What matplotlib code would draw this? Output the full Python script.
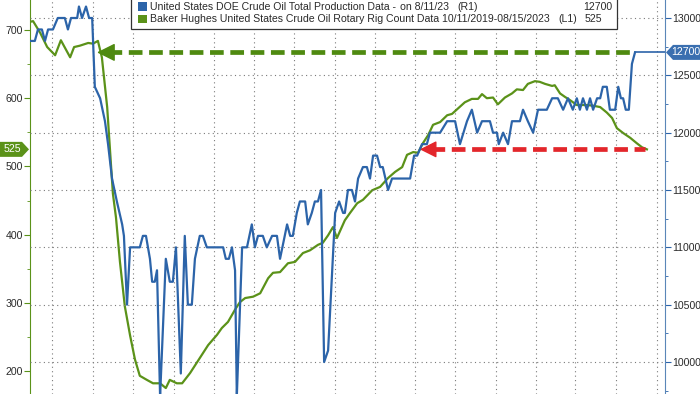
import matplotlib
matplotlib.use("Agg")
import matplotlib.pyplot as plt
import matplotlib.dates as mdates
from matplotlib.patches import Polygon, Rectangle
from matplotlib.ticker import MultipleLocator
import pandas as pd

plt.rcParams['font.family'] = ['Liberation Sans', 'DejaVu Sans']

#---------------------- data ----------------------
start = pd.Timestamp("2019-10-11")
x_end_days = 1440  # right edge of plot

# Baker Hughes rig count (left axis), days after start
rig_days = [0, 7, 23, 39, 57, 70, 91, 100, 113, 132, 143, 154, 163, 175, 184, 188,
            195, 204, 215, 227, 238, 249, 265, 279, 295, 308, 317, 333, 345, 363,
            379, 392, 404, 424, 435, 449, 465, 476, 488, 506, 522, 540, 551, 567,
            585, 601, 619, 635, 653, 664, 676, 687, 696, 714, 726, 742, 755, 776,
            794, 812, 828, 844, 855, 869, 880, 891, 903, 914, 930, 946, 957, 986,
            1002, 1016, 1025, 1036, 1050, 1061, 1077, 1093, 1104, 1118, 1129, 1145,
            1156, 1168, 1184, 1190, 1202, 1213, 1225, 1240, 1263, 1277, 1293, 1308,
            1320, 1331, 1345, 1361, 1376, 1388, 1399]
rig_count = [712, 713, 696, 675, 663, 685, 660, 675, 677, 681, 680, 684, 660, 587, 499, 460,
             425, 360, 295, 252, 217, 193, 187, 182, 182, 175, 187, 182, 182, 197,
             213, 226, 238, 253, 263, 272, 290, 301, 307, 309, 314, 336, 344, 345,
             358, 360, 373, 377, 385, 388, 399, 411, 395, 421, 432, 446, 451, 465,
             470, 483, 492, 499, 517, 521, 520, 534, 546, 561, 565, 575, 577, 594,
             599, 599, 606, 600, 601, 591, 601, 607, 613, 612, 621, 625,
             624, 621, 618, 619, 607, 602, 597, 590, 590, 589, 587, 579,
             571, 556, 549, 542, 534, 528, 525]

# DOE crude oil production (right axis), days after start
prod_days = [0, 11, 18, 27, 34, 41, 52, 63, 79, 86, 93, 107, 111, 118, 127, 134, 141,
             147, 159, 170, 177, 186, 197, 209, 213, 220, 227, 249, 256, 263, 272,
             277, 283, 288, 295, 308, 317, 324, 331, 342, 351, 358, 367, 374, 385,
             392, 401, 438, 444, 451, 458, 465, 469, 481, 492, 503, 510, 517, 528,
             537, 549, 560, 567, 583, 590, 596, 605, 612, 624, 630, 639, 646, 653,
             660, 667, 676, 692, 701, 710, 714, 721, 730, 737, 744, 755, 764, 771,
             778, 787, 794, 800, 812, 821, 862, 871, 878, 889, 900, 907, 930, 946,
             964, 975, 991, 1002, 1014, 1025, 1043, 1050, 1059, 1063, 1073, 1084,
             1093, 1111, 1118, 1129, 1141, 1152, 1172, 1184, 1197, 1209, 1220, 1231,
             1240, 1247, 1254, 1263, 1270, 1277, 1286, 1293, 1299, 1308, 1315, 1327,
             1334, 1340, 1345, 1351, 1358, 1365, 1372]
prod_vals = [12800, 12800, 12900, 12900, 12800, 12900, 12900, 13000, 13000, 12900, 13000,
             13000, 13100, 13000, 13100, 13000, 13000,
             12400, 12300, 12100, 11900, 11600, 11400, 11200, 11100, 10500, 11000, 11000,
             11100, 11100, 10900, 10700, 10700, 10800, 9700, 10900, 10700, 10700, 11000,
             9900, 11100, 10500, 10500, 10900, 11100, 11100, 11000, 11000, 10900, 10900,
             11000, 10800, 9700, 11000, 11000, 11200, 11000, 11100, 11100, 11000, 11100,
             11100, 10900, 11200, 11100, 11100, 11300, 11400, 11400, 11200, 11300, 11400,
             11400, 11500, 10000, 10100, 11300, 11400, 11300, 11300, 11500, 11500, 11400,
             11600, 11700, 11700, 11600, 11800, 11800, 11700, 11700, 11500, 11600, 11600,
             11800, 11800, 11900, 11900, 12000, 12000, 12100, 12100, 11900, 12100, 12200,
             12000, 12100, 12100, 12000, 12000, 11900, 12000, 11900, 12100, 12100, 12200,
             12100, 12000, 12200, 12200, 12300, 12300, 12200, 12300, 12200, 12300, 12200,
             12300, 12200, 12300, 12200, 12300, 12300, 12400, 12400, 12200, 12200, 12400,
             12300, 12300, 12200, 12200, 12600, 12700]

# arrows (days after start)
green_arrow_tip = 152
green_arrow_end = 1367
red_arrow_tip = 884
red_arrow_end = 1395

prod_label = "United States DOE Crude Oil Total Production Data -"
rig_label = "Baker Hughes United States Crude Oil Rotary Rig Count Data 10/11/2019-08/15/2023"

#---------------------- style ----------------------
BLUE = '#2c64a9'
GREEN = '#5b9219'
RED = '#e3262b'
TXT = '#2a2a2a'
W, H = 700, 394

def day(d):
    return start + pd.Timedelta(days=d)

rig_dates = [day(d) for d in rig_days]
prod_dates = [day(d) for d in prod_days]

fig = plt.figure(figsize=(7, 3.94), dpi=100)
ax = fig.add_axes([30 / W, 0, 635 / W, 1])
ax2 = ax.twinx()

ax.set_xlim(day(0), day(x_end_days))
ax.set_ylim(166.3, 744)
ax2.set_ylim(9721, 13157)

ax.plot(rig_dates, rig_count, color=GREEN, lw=1.6, zorder=3)
ax2.plot(prod_dates, prod_vals, color=BLUE, lw=1.6, zorder=3)
# last value line to the axis
ax2.plot([prod_dates[-1], day(x_end_days)], [prod_vals[-1], prod_vals[-1]], color=BLUE, lw=1.2)

# grid
ax.xaxis.set_major_locator(mdates.MonthLocator(bymonth=[3, 6, 9, 12]))
ax.grid(axis='x', color='#7a7a7a', ls=(0, (1, 3)), lw=0.8)
ax2.grid(axis='y', color='#7a7a7a', ls=(0, (1, 3)), lw=0.8)
ax.tick_params(axis='x', bottom=False, labelbottom=False)

ax.yaxis.set_major_locator(MultipleLocator(100))
ax.yaxis.set_minor_locator(MultipleLocator(50))
ax2.yaxis.set_major_locator(MultipleLocator(500))
ax2.yaxis.set_minor_locator(MultipleLocator(250))
ax.tick_params(axis='y', which='major', colors=GREEN, labelcolor=TXT, labelsize=7.6, length=4, pad=1)
ax.tick_params(axis='y', which='minor', colors=GREEN, length=2)
ax2.tick_params(axis='y', which='major', colors=BLUE, labelcolor=TXT, labelsize=7.6, length=4, pad=1)
ax2.tick_params(axis='y', which='minor', colors=BLUE, length=2)

for a in (ax, ax2):
    a.spines['top'].set_visible(False)
    a.spines['bottom'].set_visible(False)
ax.spines['left'].set_color(GREEN)
ax2.spines['left'].set_visible(False)
ax2.spines['right'].set_color('#5a86b8')
ax.spines['right'].set_visible(False)

# dashed arrows
ax2.plot([day(green_arrow_tip + 25), day(green_arrow_end)], [prod_vals[-1]] * 2,
         color='#4f8a10', lw=3.4, dashes=(2.9, 1.4), solid_capstyle='butt', zorder=4)
ax2.annotate('', xy=(day(green_arrow_tip), prod_vals[-1]),
             xytext=(day(green_arrow_tip + 30), prod_vals[-1]),
             arrowprops=dict(arrowstyle='-|>,head_length=0.8,head_width=0.4',
                             mutation_scale=14, fc='#4f8a10', ec='#4f8a10', lw=1, shrinkA=0, shrinkB=0),
             zorder=4)
ax.plot([day(red_arrow_tip + 25), day(red_arrow_end)], [rig_count[-1]] * 2,
        color=RED, lw=3.4, dashes=(2.9, 1.4), solid_capstyle='butt', zorder=4)
ax.annotate('', xy=(day(red_arrow_tip), rig_count[-1]),
            xytext=(day(red_arrow_tip + 30), rig_count[-1]),
            arrowprops=dict(arrowstyle='-|>,head_length=0.8,head_width=0.4',
                            mutation_scale=13, fc=RED, ec=RED, lw=1, shrinkA=0, shrinkB=0),
            zorder=4)

# value badges
def to_px_y(axis, val):
    yf = fig.transFigure.inverted().transform(axis.transData.transform((0, val)))[1]
    return (1 - yf) * H

def px(x, y):
    return (x / W, 1 - y / H)

yg = to_px_y(ax, rig_count[-1])
fig.patches.append(Polygon([px(0, yg - 7.5), px(22, yg - 7.5), px(29, yg), px(22, yg + 7.5), px(0, yg + 7.5)],
                           closed=True, fc=GREEN, ec='none', transform=fig.transFigure))
fig.text(*px(12, yg), str(rig_count[-1]), color='white', fontsize=7.6, ha='center', va='center')

yb = to_px_y(ax2, prod_vals[-1])
fig.patches.append(Polygon([px(666, yb), px(673, yb - 7.5), px(700, yb - 7.5), px(700, yb + 7.5), px(673, yb + 7.5)],
                           closed=True, fc='#3a6fb0', ec='none', transform=fig.transFigure))
fig.text(*px(686, yb), str(prod_vals[-1]), color='white', fontsize=7.6, ha='center', va='center')

# legend box
fig.patches.append(Rectangle(px(131, 29), 486 / W, 32 / H, fc='white', ec='#333333', lw=0.9,
                             transform=fig.transFigure, zorder=5))
fig.patches.append(Rectangle(px(138, 10.5), 9 / W, 8.5 / H, fc=BLUE, ec='none', transform=fig.transFigure, zorder=6))
fig.patches.append(Rectangle(px(138, 23), 9 / W, 8.5 / H, fc=GREEN, ec='none', transform=fig.transFigure, zorder=6))
tk = dict(fontsize=7.6, color=TXT, va='center', zorder=7)
fig.text(*px(150, 7), prod_label, **tk)
fig.text(*px(400, 7), "on 8/11/23", **tk)
fig.text(*px(457, 7), "(R1)", **tk)
fig.text(*px(612, 7), str(prod_vals[-1]), ha='right', **tk)
fig.text(*px(150, 19), rig_label, **tk)
fig.text(*px(558, 19), "(L1)", **tk)
fig.text(*px(585, 19), str(rig_count[-1]), **tk)

fig.savefig("out.png", dpi=100)
